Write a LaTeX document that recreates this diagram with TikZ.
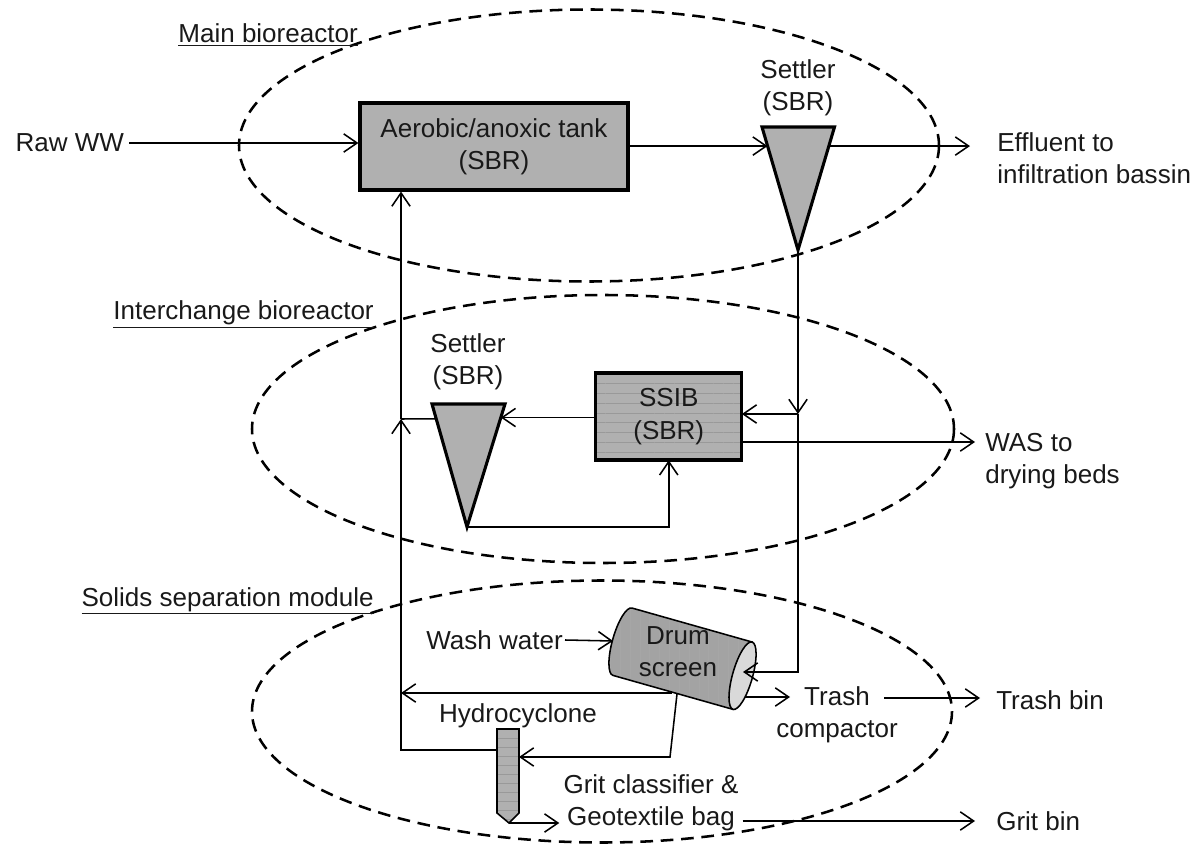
\documentclass[tikz,border=0pt]{standalone}
\usepackage{fontspec}
\setmainfont{Liberation Sans}
\usetikzlibrary{arrows.meta,calc,patterns.meta}
\definecolor{unitgray}{gray}{0.69}
\definecolor{drumgray}{gray}{0.64}
\definecolor{capgray}{gray}{0.85}

\begin{document}
\begin{tikzpicture}[x=0.025cm,y=-0.025cm,>={Straight Barb[length=9.5pt,width=13pt]},
    font=\fontsize{18.5}{23}\selectfont,align=center,text=black!90,
    flow/.style={->,line width=1.1pt},pipe/.style={line width=1.1pt},
    zone/.style={line width=1.8pt,dash pattern=on 9pt off 5.5pt},
    unit/.style={draw,line width=2.2pt,fill=unitgray},
    ribbed/.style={preaction={fill=unitgray},pattern={Lines[angle=0,distance=7pt,line width=0.4pt]},pattern color=black!40},
    sink/.style={anchor=west,align=left},
    zonelabel/.style={anchor=base east,inner sep=0pt}]
    \useasboundingbox (0,0) rectangle (1198,846);
    \draw[zone] (589,145.5) ellipse [x radius=350,y radius=136];
    \draw[zone] (603,429) ellipse [x radius=351,y radius=134];
    \draw[zone] (602,711.5) ellipse [x radius=350,y radius=131];
    \node[zonelabel] (mainlab) at (358,43) {\underline{Main bioreactor}};
    \node[zonelabel] (interlab) at (374,320) {\underline{Interchange bioreactor}};
    \node[zonelabel] (solidlab) at (374,606) {\underline{Solids separation module}};

    \node[unit,minimum width=6.7cm,minimum height=2.175cm] (tank) at (494,146.5) {Aerobic/anoxic tank\\(SBR)};
    \coordinate (s1tl) at (762,127); \coordinate (s1tr) at (834.5,127); \coordinate (s1ap) at (798,250);
    \draw[unit] (s1tl) -- (s1tr) -- (s1ap) -- cycle;
    \node (s1lab) at (798,88) {Settler\\(SBR)};
    \node[anchor=east] (raw) at (129,143) {Raw WW};
    \node[sink,inner xsep=0.675cm] (effl) at (970,158) {Effluent to\\infiltration bassin};
    \coordinate (s1in) at ($(s1tl)!0.155!(s1ap)$);
    \coordinate (s1out) at ($(s1tr)!0.155!(s1ap)$);
    \path[flow] (raw.east) edge (tank.west |- raw.east)
                (tank.east |- s1in) edge (s1in)
                (s1out) edge (effl.west |- s1out);

    \node[unit,ribbed,minimum width=3.64cm,minimum height=2.175cm] (ssib) at (668.75,416.5) {SSIB\\(SBR)};
    \coordinate (s2tl) at (432,404); \coordinate (s2tr) at (505,404); \coordinate (s2ap) at (467,527);
    \draw[unit] (s2tl) -- (s2tr) -- (s2ap) -- cycle;
    \node (s2lab) at (468,362) {Settler\\(SBR)};
    \coordinate (s2in) at ($(s2tr)!0.11!(s2ap)$);
    \coordinate (s2out) at ($(s2tl)!0.12!(s2ap)$);
    \coordinate (jn) at (401,419);
    \coordinate (tap) at (798,414);
    \coordinate (wasout) at (741.5,442);
    \node[sink,inner xsep=0.25cm] (was) at (975,461) {WAS to\\drying beds};
    \draw[flow] (s1ap) -- (tap);
    \draw[flow] (tap) -- (ssib.east |- tap);
    \draw[flow] (ssib.west |- s2in) -- (s2in);
    \draw[pipe] (s2out) -- (jn);
    \draw[flow] (s2ap) -| (ssib.south);
    \draw[flow] (wasout) -- (was.west |- wasout);
    \draw[flow] (jn) -- (jn |- tank.south);

    \begin{scope}[shift={(682.5,658.7)},rotate=-15.8]
        \draw[pipe,preaction={fill=drumgray},pattern={Lines[angle=90,distance=7pt,line width=0.4pt]},pattern color=black!35]
            (-62.4,-35) -- (62.4,-35) -- (62.4,35) -- (-62.4,35) arc [start angle=90,end angle=270,x radius=10,y radius=35] -- cycle;
        \draw[pipe,fill=capgray] (62.4,0) ellipse [x radius=10,y radius=35];
    \end{scope}
    \node (drum) at (678,652) {Drum\\screen};
    \coordinate (drwash) at (613,641); \coordinate (drin) at (743,672); \coordinate (drtrash) at (745,697);
    \coordinate (drbotA) at (672,693); \coordinate (drbotB) at (677,694); \coordinate (drbend) at (670,757);
    \coordinate (hyleft) at (497,750); \coordinate (hyright) at (519,757); \coordinate (hytip) at (509,823);
    \draw[pipe,preaction={fill=unitgray},pattern={Lines[angle=0,distance=6.4pt,line width=0.4pt]},pattern color=black!40]
        (497,729) -- (519,729) -- (519,813) -- (hytip) -- (497,813) -- cycle;
    \node[anchor=base] (hylab) at (518,722) {Hydrocyclone};
    \node[anchor=east,inner xsep=0.05cm] (wash) at (565,640) {Wash water};
    \node (trash) at (837,714.5) {Trash\\compactor};
    \coordinate (trin) at (790,697); \coordinate (trout) at (884,698);
    \node[sink,inner xsep=0.4cm] (trashbin) at (980,700) {Trash bin};
    \node[inner xsep=0.1cm] (grit) at (651,803) {Grit classifier \&\\Geotextile bag};
    \node[sink,inner xsep=0.525cm] (gritbin) at (975,821) {Grit bin};
    \draw[flow] (tap) |- (drin);
    \draw[flow] (wash.east) -- (drwash);
    \draw[flow] (drtrash) -- (trin);
    \draw[flow] (trout) -- (trashbin.west |- trout);
    \draw[flow] (hyleft) -| (jn);
    \draw[flow] (drbotA) -- (jn |- drbotA);
    \draw[flow] (drbotB) -- (drbend) -- (hyright);
    \draw[flow] (hytip) -- (grit.west |- hytip);
    \draw[flow] (grit.east |- gritbin.west) -- (gritbin.west);
\end{tikzpicture}
\end{document}
